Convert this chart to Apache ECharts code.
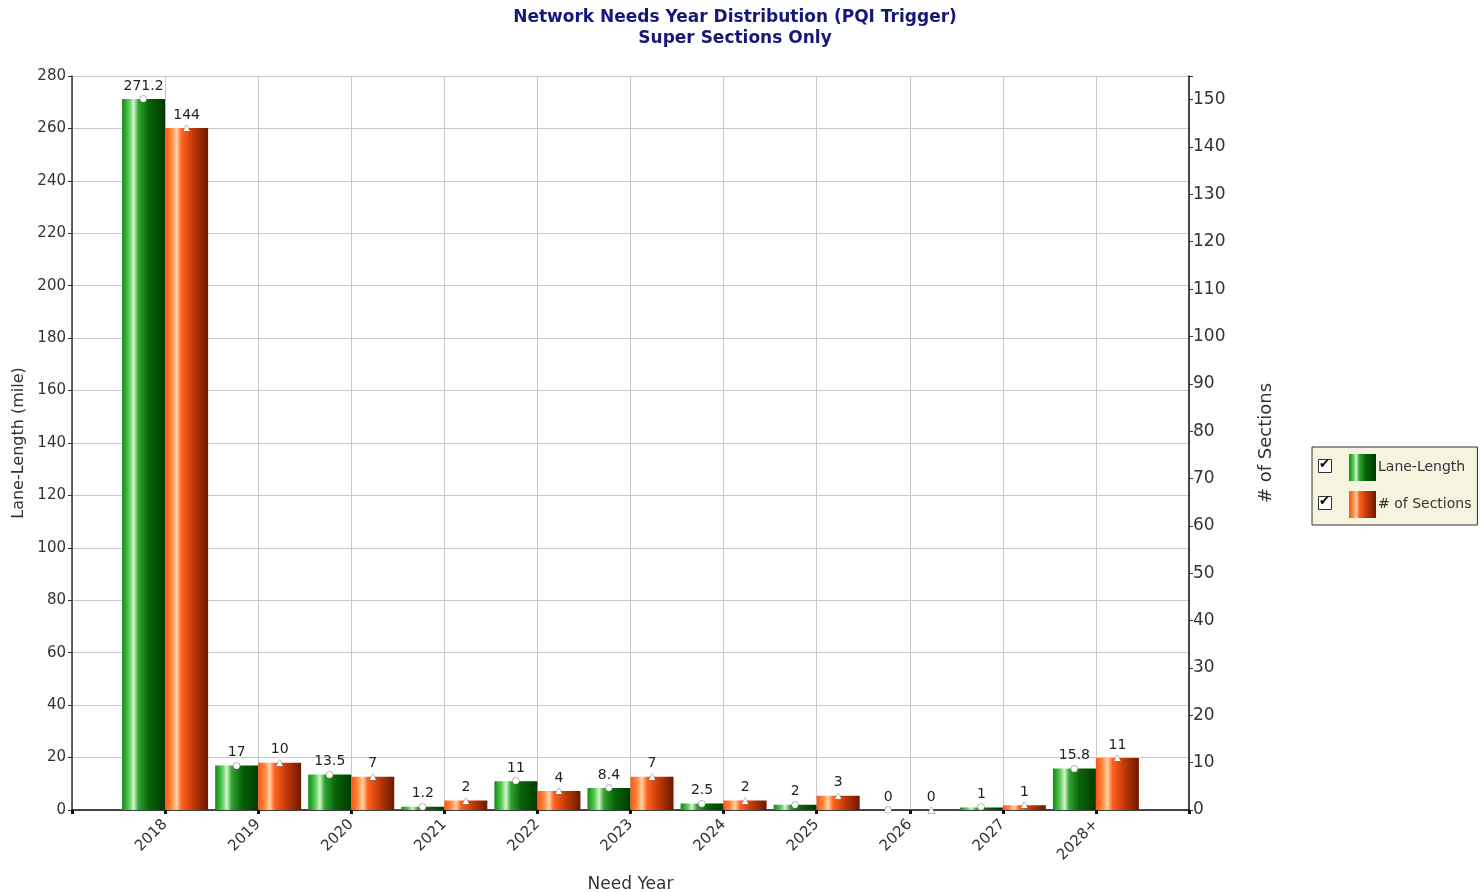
<!DOCTYPE html>
<html>
<head>
<meta charset="utf-8">
<script src="https://cdn.jsdelivr.net/npm/echarts@6/dist/echarts.min.js"></script>
<style>
  html, body { margin: 0; padding: 0; background: #fff; }
  #chart { width: 1480px; height: 892px; }
</style>
</head>
<body>
<div id="chart"></div>
<script>
const years = ['2018', '2019', '2020', '2021', '2022', '2023', '2024', '2025', '2026', '2027', '2028+'];
const laneLength = [271.2, 17, 13.5, 1.2, 11, 8.4, 2.5, 2, 0, 1, 15.8];
const sectionCount = [144, 10, 7, 2, 4, 7, 2, 3, 0, 1, 11];
const leftTicks = { min: 0, max: 280, interval: 20 };
const rightTicks = { min: 0, max: 155, interval: 10 };

// one empty slot each side, so the year ticks sit one step in from the axis ends
const cats = [''].concat(years, ['']);
const pad = arr => [null].concat(arr, [null]);

const font = 'DejaVu Sans, Verdana, sans-serif';

const greenFill = new echarts.graphic.LinearGradient(0, 0, 1, 0, [
  { offset: 0, color: '#128a12' },
  { offset: 0.16, color: '#56c956' },
  { offset: 0.27, color: '#d2f7c8' },
  { offset: 0.38, color: '#34a334' },
  { offset: 0.62, color: '#086408' },
  { offset: 1, color: '#003a00' }
]);
const orangeFill = new echarts.graphic.LinearGradient(0, 0, 1, 0, [
  { offset: 0, color: '#ff5410' },
  { offset: 0.16, color: '#ff8c45' },
  { offset: 0.27, color: '#ffd3a5' },
  { offset: 0.38, color: '#ff6420' },
  { offset: 0.65, color: '#c43a06' },
  { offset: 1, color: '#6a1800' }
]);

const barLabel = (glyph) => ({
  show: true,
  position: 'top',
  distance: -4,
  formatter: p => p.value == null ? '' : '{v|' + p.value + '}\n{m|' + glyph + '}',
  rich: {
    v: { fontFamily: font, fontSize: 14, color: '#222', lineHeight: 18, align: 'center' },
    m: { fontSize: 8, color: '#fff', lineHeight: 8, textBorderColor: '#777', textBorderWidth: 1, align: 'center' }
  }
});

const checkbox = (top) => [
  { type: 'rect', z: 100, left: 1318, top: top, shape: { width: 13, height: 13 }, style: { fill: '#fff', stroke: '#333', lineWidth: 1 } },
  { type: 'text', z: 101, left: 1319, top: top - 1, style: { text: '✔', font: 'bold 13px DejaVu Sans', fill: '#000' } }
];

const chart = echarts.init(document.getElementById('chart'));

chart.setOption({
  animation: false,
  textStyle: { fontFamily: font },
  title: {
    text: 'Network Needs Year Distribution (PQI Trigger)\nSuper Sections Only',
    left: 730,
    textAlign: 'center',
    top: 2,
    textStyle: { fontFamily: font, fontSize: 17, fontWeight: 'bold', color: '#17177a', lineHeight: 21 }
  },
  legend: {
    orient: 'vertical',
    left: 1312,
    top: 447,
    padding: [7, 6, 7, 37],
    itemGap: 10,
    itemWidth: 27,
    itemHeight: 27,
    icon: 'rect',
    backgroundColor: '#f6f4df',
    borderColor: '#333',
    borderWidth: 1,
    selectedMode: false,
    textStyle: { fontFamily: font, fontSize: 14, color: '#333', padding: [0, 0, 0, -3] },
    data: ['Lane-Length', '# of Sections']
  },
  graphic: checkbox(459).concat(checkbox(496)),
  grid: { left: 72, right: 291, top: 76, bottom: 82, outerBoundsMode: 'none', containLabel: false },
  xAxis: {
    type: 'category',
    data: cats,
    boundaryGap: false,
    name: 'Need Year',
    nameLocation: 'middle',
    nameGap: 66,
    nameTextStyle: { fontFamily: font, fontSize: 17, color: '#333' },
    axisLine: { lineStyle: { color: '#111', width: 1.5 } },
    axisTick: { show: true, length: 4, lineStyle: { color: '#111', width: 3 } },
    axisLabel: { rotate: 45, fontSize: 15, color: '#333', margin: 12, interval: 0 },
    splitLine: { show: true, lineStyle: { color: '#c8c8c8' } }
  },
  yAxis: [
    {
      type: 'value',
      min: leftTicks.min,
      max: leftTicks.max,
      interval: leftTicks.interval,
      name: 'Lane-Length (mile)',
      nameLocation: 'middle',
      nameRotate: 90,
      nameGap: 42,
      nameTextStyle: { fontFamily: font, fontSize: 16, color: '#333' },
      axisLine: { show: true, lineStyle: { color: '#333', width: 1.5 } },
      axisTick: { show: true, length: 4, lineStyle: { color: '#333' } },
      axisLabel: { fontSize: 15, color: '#333', margin: 6 },
      splitLine: { show: true, lineStyle: { color: '#c8c8c8' } }
    },
    {
      type: 'value',
      position: 'right',
      min: rightTicks.min,
      max: rightTicks.max,
      interval: rightTicks.interval,
      name: '# of Sections',
      nameLocation: 'middle',
      nameRotate: 90,
      nameGap: 68,
      nameTextStyle: { fontFamily: font, fontSize: 18, color: '#333' },
      axisLine: { show: true, lineStyle: { color: '#111', width: 1.5 } },
      axisTick: { show: true, length: 4, lineStyle: { color: '#333' } },
      axisLabel: {
        fontSize: 17, color: '#333', margin: 4,
        formatter: v => (v % 10 === 0 ? String(v) : '')
      },
      splitLine: { show: false }
    }
  ],
  series: [
    {
      name: 'Lane-Length',
      type: 'bar',
      yAxisIndex: 0,
      data: pad(laneLength),
      barWidth: 43,
      barGap: '0%',
      itemStyle: { color: greenFill },
      label: barLabel('●')
    },
    {
      name: '# of Sections',
      type: 'bar',
      yAxisIndex: 1,
      data: pad(sectionCount),
      barWidth: 43,
      barGap: '0%',
      itemStyle: { color: orangeFill },
      label: barLabel('▲')
    }
  ]
});
</script>
</body>
</html>
